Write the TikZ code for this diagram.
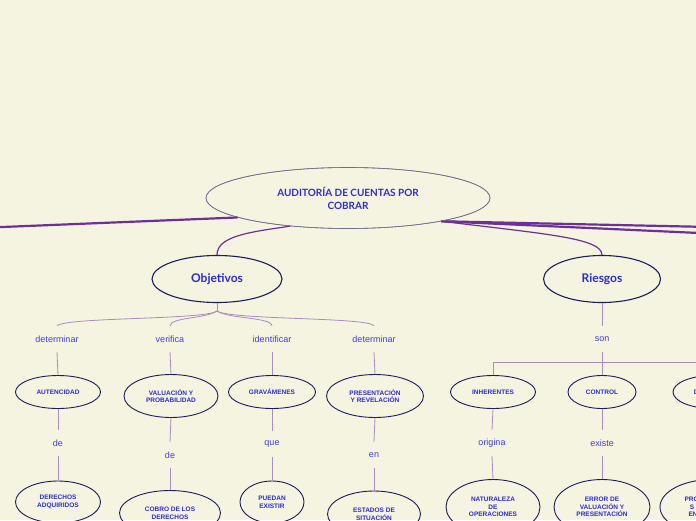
\documentclass[tikz,border=0pt]{standalone}
\usepackage{fontspec}
\setmainfont{Liberation Sans}
\newfontfamily\titlefont{Lato}
\usetikzlibrary{shapes.geometric}
\definecolor{bg}{RGB}{245,244,224}
\definecolor{txtblue}{RGB}{44,44,214}
\definecolor{lblblue}{RGB}{62,62,222}
\definecolor{navy}{RGB}{28,28,92}
\definecolor{mainline}{RGB}{110,110,142}
\definecolor{thick}{RGB}{108,48,152}
\definecolor{thin}{RGB}{168,140,192}
\tikzset{
  nd/.style={ellipse, draw=navy, line width=0.9pt, inner sep=0pt, align=center,
    text=txtblue, font=\fontsize{6.5}{7.6}\selectfont\bfseries},
  topnd/.style={ellipse, draw=navy, line width=1.1pt, inner sep=0pt, align=center,
    text=txtblue, font=\titlefont\fontsize{12}{14}\selectfont\bfseries},
  lbl/.style={inner sep=0pt, minimum height=26pt, text=lblblue,
    font=\fontsize{9}{10}\selectfont},
  thk/.style={draw=thick, line width=2.2pt},
  mid/.style={draw=thick, line width=1.2pt},
  thn/.style={draw=thin, line width=0.8pt}
}
\begin{document}
\begin{tikzpicture}[x=1pt,y=-1pt]
\useasboundingbox (0,0) rectangle (696,520);
\fill[bg] (0,0) rectangle (696,520);
\clip (0,0) rectangle (696,520);

% main
\node[ellipse, draw=mainline, line width=0.6pt, fill=bg, minimum width=284pt, minimum height=61pt,
  inner sep=0pt, align=center, text=txtblue, font=\titlefont\fontsize{10}{13}\selectfont\bfseries]
  (main) at (348,198) {AUDITORÍA DE CUENTAS POR\\COBRAR};

\node[topnd, minimum width=130pt, minimum height=47pt] (obj) at (217,279) {Objetivos};
\node[topnd, minimum width=117pt, minimum height=47pt] (rie) at (602,279) {Riesgos};

\coordinate (lend) at (-10,227.5);
\coordinate (rend1) at (710,227);
\coordinate (rend2) at (710,233.5);

\draw[thk] (main.190) -- (lend);
\draw[thk] (main.346) -- (rend1);
\draw[thk] (main.346) -- (rend2);
\draw[mid] (main.346) .. controls (545,234) and (602,238) .. (rie.north);
\draw[mid] (main.206) .. controls (250,232) and (217,236) .. (obj.north);
% redraw main ellipse border over lines
\node[ellipse, draw=mainline, line width=0.6pt, minimum width=284pt, minimum height=61pt, inner sep=0pt] at (348,198) {};

% Objetivos branch
\coordinate (ojn) at (217,311);
\node[lbl] (l1) at (57,339) {determinar};
\node[lbl] (l2) at (170,339) {verifica};
\node[lbl] (l3) at (272,339) {identificar};
\node[lbl] (l4) at (374,339) {determinar};
\draw[thn] (obj.south) -- (ojn);
\draw[thn] (ojn) .. controls (205,320) and (66,317) .. (l1.north);
\draw[thn] (ojn) .. controls (205,319) and (171,317) .. (l2.north);
\draw[thn] (ojn) .. controls (229,319) and (271,317) .. (l3.north);
\draw[thn] (ojn) .. controls (230,320) and (368,317) .. (l4.north);

\node[nd, minimum width=85pt, minimum height=33pt] (aut) at (58,392) {AUTENCIDAD};
\node[nd, minimum width=94pt, minimum height=43pt] (val) at (171,396) {VALUACIÓN Y\\PROBABILIDAD};
\node[nd, minimum width=87pt, minimum height=33pt] (gra) at (272,392) {GRAVÁMENES};
\node[nd, minimum width=97pt, minimum height=43pt] (pre) at (375,396) {PRESENTACIÓN\\Y REVELACIÓN};

\draw[thn] (l1.south) -- (aut.north);
\draw[thn] (l2.south) -- (val.north);
\draw[thn] (l3.south) -- (gra.north);
\draw[thn] (l4.south) -- (pre.north);

\node[lbl] (m1) at (58,443) {de};
\node[lbl] (m2) at (170,455) {de};
\node[lbl] (m3) at (272,444) {que};
\node[lbl] (m4) at (374,455) {en};
\draw[thn] (aut.south) -- (m1.north);
\draw[thn] (val.south) -- (m2.north);
\draw[thn] (gra.south) -- (m3.north);
\draw[thn] (pre.south) -- (m4.north);

\node[nd, minimum width=85pt, minimum height=42pt] (der) at (58,502) {DERECHOS\\ADQUIRIDOS};
\node[nd, minimum width=101pt, minimum height=45pt] (cob) at (170,513) {COBRO DE LOS\\DERECHOS};
\node[nd, minimum width=64pt, minimum height=42pt] (pue) at (272,502) {PUEDAN\\EXISTIR};
\node[nd, minimum width=93pt, minimum height=46pt] (est) at (374,514) {ESTADOS DE\\SITUACIÓN};
\draw[thn] (m1.south) -- (der.north);
\draw[thn] (m2.south) -- (cob.north);
\draw[thn] (m3.south) -- (pue.north);
\draw[thn] (m4.south) -- (est.north);

% Riesgos branch
\node[lbl] (son) at (602,339) {son};
\draw[thn] (rie.south) -- (son.north);
\coordinate (bar) at (602,362);
\node[nd, minimum width=85pt, minimum height=33pt] (inh) at (493,392) {INHERENTES};
\node[nd, minimum width=68pt, minimum height=33pt] (ctl) at (602,392) {CONTROL};
\node[nd, minimum width=80pt, minimum height=33pt] (det) at (713,392) {DETECCIÓN};
\draw[thn] (son.south) -- (ctl.north);
\draw[thn] (inh.north) -- (inh.north |- bar) -- (det.north |- bar) -- (det.north);

\node[lbl] (o1) at (492,443) {origina};
\node[lbl] (o2) at (602,443) {existe};
\draw[thn] (inh.south) -- (o1.north);
\draw[thn] (ctl.south) -- (o2.north);

\node[nd, minimum width=94pt, minimum height=55pt] (nat) at (493,507) {NATURALEZA\\DE\\OPERACIONES};
\node[nd, minimum width=96pt, minimum height=55pt] (err) at (602,507) {ERROR DE\\VALUACIÓN Y\\PRESENTACIÓN};
\node[nd, minimum width=104pt, minimum height=55pt] (prc) at (712,507) {PROCEDIMIENTO\\S APLICADOS\\EN AUDITORÍA};
\draw[thn] (o1.south) -- (nat.north);
\draw[thn] (o2.south) -- (err.north);
\end{tikzpicture}
\end{document}
